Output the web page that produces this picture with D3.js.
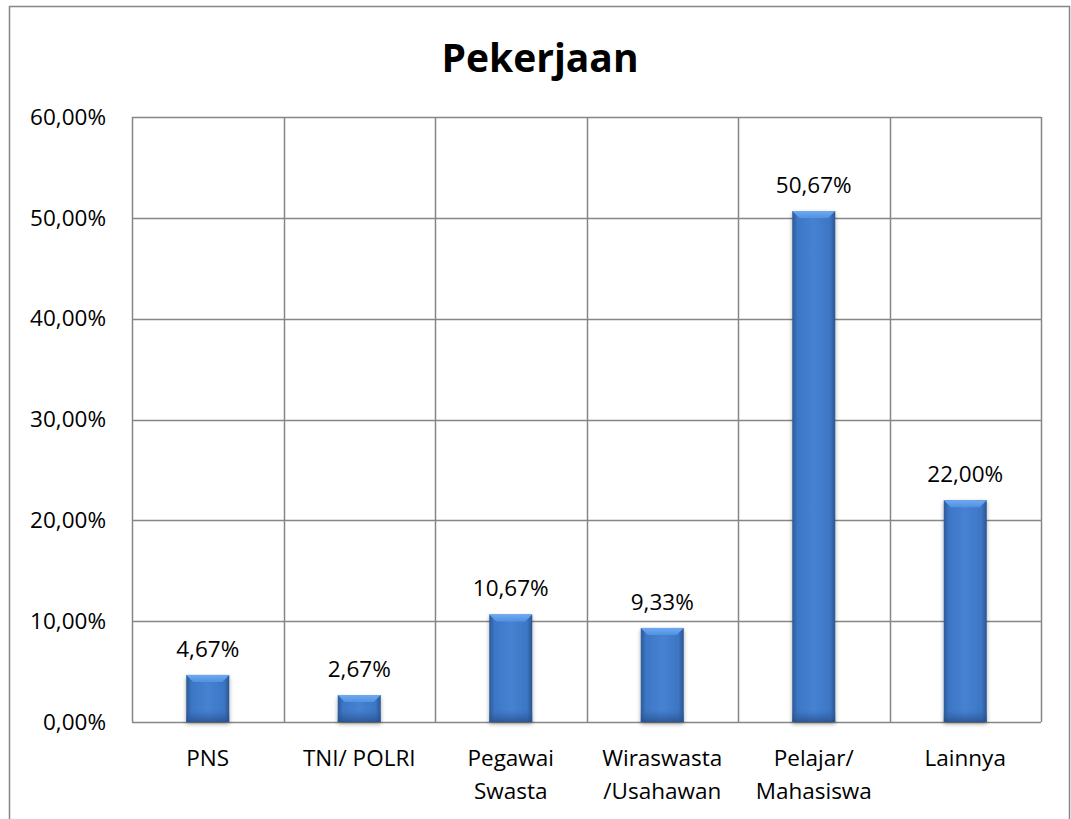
<!DOCTYPE html>
<html>
<head>
<meta charset="utf-8">
<script src="https://cdn.jsdelivr.net/npm/d3@7"></script>
<style>
  body { margin: 0; background: #fff; }
  svg text { font-family: "Open Sans", "Noto Sans", sans-serif; fill: #000; }
</style>
</head>
<body>
<svg id="chart" width="1071" height="819"></svg>
<script>
var categories = ["PNS", "TNI/ POLRI", "Pegawai Swasta", "Wiraswasta /Usahawan", "Pelajar/ Mahasiswa", "Lainnya"];
var categoryLines = [["PNS"], ["TNI/ POLRI"], ["Pegawai", "Swasta"], ["Wiraswasta", "/Usahawan"], ["Pelajar/", "Mahasiswa"], ["Lainnya"]];
var values = [4.67, 2.67, 10.67, 9.33, 50.67, 22.00];
var yTicks = [0, 10, 20, 30, 40, 50, 60];
var title = "Pekerjaan";

var svg = d3.select("#chart");
var plotLeft = 132, plotRight = 1041, plotTop = 117, plotBottom = 722;
var gridColor = "#868686";
var fs = 22.5;

function fmt(v) { return v.toFixed(2).replace(".", ",") + "%"; }

// outer frame
svg.append("path")
    .attr("d", "M9.5,830 V6.5 H1069.5 V830")
    .attr("fill", "none")
    .attr("stroke", gridColor)
    .attr("stroke-width", 1.5);

var x = d3.scaleBand().domain(categories).range([plotLeft, plotRight]).paddingInner(0).paddingOuter(0);
var y = d3.scaleLinear().domain([0, 60]).range([plotBottom, plotTop]);

// defs
var defs = svg.append("defs");
var side = defs.append("linearGradient").attr("id", "barSide").attr("x1", "0").attr("x2", "1").attr("y1", "0").attr("y2", "0");
side.append("stop").attr("offset", "0").attr("stop-color", "#2c5a98");
side.append("stop").attr("offset", "0.12").attr("stop-color", "#3c76c4");
side.append("stop").attr("offset", "0.5").attr("stop-color", "#4682d2");
side.append("stop").attr("offset", "0.88").attr("stop-color", "#3c76c4");
side.append("stop").attr("offset", "1").attr("stop-color", "#2a5590");
var topG = defs.append("linearGradient").attr("id", "barTop").attr("x1", "0").attr("x2", "0").attr("y1", "0").attr("y2", "1");
topG.append("stop").attr("offset", "0").attr("stop-color", "#6ea9f2");
topG.append("stop").attr("offset", "1").attr("stop-color", "#5291e2");
var botG = defs.append("linearGradient").attr("id", "barBot").attr("x1", "0").attr("x2", "0").attr("y1", "0").attr("y2", "1");
botG.append("stop").attr("offset", "0").attr("stop-color", "#2f5f9f").attr("stop-opacity", 0);
botG.append("stop").attr("offset", "1").attr("stop-color", "#264f88").attr("stop-opacity", 0.8);
var shadow = defs.append("filter").attr("id", "shadow").attr("x", "-30%").attr("y", "-10%").attr("width", "160%").attr("height", "130%");
shadow.append("feGaussianBlur").attr("in", "SourceAlpha").attr("stdDeviation", 2);
shadow.append("feOffset").attr("dx", 0).attr("dy", 2).attr("result", "b");
shadow.append("feComponentTransfer").append("feFuncA").attr("type", "linear").attr("slope", 0.35);
var mrg = shadow.append("feMerge");
mrg.append("feMergeNode");
mrg.append("feMergeNode").attr("in", "SourceGraphic");

// horizontal gridlines
svg.append("g").selectAll("line").data(yTicks).join("line")
    .attr("x1", plotLeft).attr("x2", plotRight)
    .attr("y1", function (d) { return Math.round(y(d)) + 0.5; })
    .attr("y2", function (d) { return Math.round(y(d)) + 0.5; })
    .attr("stroke", gridColor).attr("stroke-width", 1.5);

// vertical gridlines at category boundaries
var bounds = categories.map(function (c) { return x(c); }).concat([plotRight]);
svg.append("g").selectAll("line").data(bounds).join("line")
    .attr("x1", function (d) { return Math.round(d) + 0.5; })
    .attr("x2", function (d) { return Math.round(d) + 0.5; })
    .attr("y1", plotTop).attr("y2", plotBottom)
    .attr("stroke", gridColor).attr("stroke-width", 1.5);

// y axis labels
var yAxis = d3.axisLeft(y).tickValues(yTicks).tickSize(0).tickPadding(26).tickFormat(function (d) { return fmt(d); });
var ya = svg.append("g").attr("transform", "translate(" + plotLeft + ",0)").call(yAxis);
ya.select(".domain").remove();
ya.attr("font-size", fs).attr("font-family", null);
ya.selectAll("text").attr("fill", "#000");

// bars
var bw = 43;
var bars = svg.append("g").selectAll("g").data(values).join("g")
    .attr("filter", "url(#shadow)");
bars.each(function (v, i) {
    var g = d3.select(this);
    var cx = x(categories[i]) + x.bandwidth() / 2;
    var x0 = cx - bw / 2, x1 = cx + bw / 2;
    var yt = y(v), yb = y(0);
    var bev = Math.min(7, (yb - yt) / 2);
    g.append("rect").attr("x", x0).attr("y", yt).attr("width", bw).attr("height", yb - yt).attr("fill", "url(#barSide)");
    g.append("rect").attr("x", x0).attr("y", Math.max(yt, yb - 12)).attr("width", bw).attr("height", Math.min(12, yb - yt)).attr("fill", "url(#barBot)");
    g.append("path")
        .attr("d", "M" + x0 + "," + yt + " L" + x1 + "," + yt + " L" + (x1 - 7) + "," + (yt + bev) + " L" + (x0 + 7) + "," + (yt + bev) + " Z")
        .attr("fill", "url(#barTop)");
});

// value labels
svg.append("g").selectAll("text").data(values).join("text")
    .attr("x", function (d, i) { return x(categories[i]) + x.bandwidth() / 2; })
    .attr("y", function (d) { return y(d) - 18; })
    .attr("text-anchor", "middle")
    .attr("font-size", fs)
    .text(function (d) { return fmt(d); });

// category labels
var cl = svg.append("g").selectAll("text").data(categoryLines).join("text")
    .attr("text-anchor", "middle")
    .attr("font-size", fs)
    .attr("x", function (d, i) { return x(categories[i]) + x.bandwidth() / 2; })
    .attr("y", 766);
cl.selectAll("tspan").data(function (d) { return d; }).join("tspan")
    .attr("x", function () { return d3.select(this.parentNode).attr("x"); })
    .attr("dy", function (d, j) { return j === 0 ? 0 : 33; })
    .text(function (d) { return d; });

// title
svg.append("text")
    .attr("x", 540).attr("y", 72)
    .attr("text-anchor", "middle")
    .attr("font-size", 39)
    .attr("font-weight", "bold")
    .text(title);
</script>
</body>
</html>
